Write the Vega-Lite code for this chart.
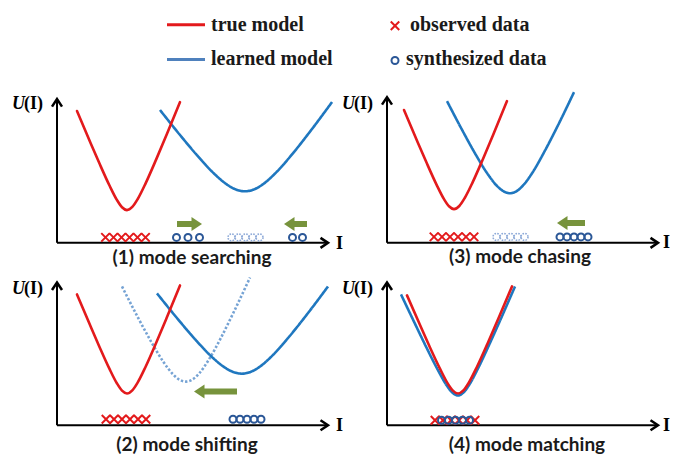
{
  "$schema": "https://vega.github.io/schema/vega-lite/v6.json",
  "width": 673,
  "height": 455,
  "autosize": {"type": "fit", "contains": "padding"},
  "padding": 0,
  "background": "white",
  "config": {"view": {"stroke": null}},
  "resolve": {"scale": {"shape": "independent"}},
  "datasets": {
    "curves": [
      {"curve":"p1-true","series":"true","x":77,"y":112},{"curve":"p1-true","series":"true","x":89.5,"y":141.7},{"curve":"p1-true","series":"true","x":99.5,"y":165},{"curve":"p1-true","series":"true","x":109.5,"y":187.2},{"curve":"p1-true","series":"true","x":117,"y":201.9},{"curve":"p1-true","series":"true","x":122,"y":209.1},{"curve":"p1-true","series":"true","x":127,"y":212},{"curve":"p1-true","series":"true","x":132.3,"y":208.8},{"curve":"p1-true","series":"true","x":137.6,"y":201},{"curve":"p1-true","series":"true","x":145.6,"y":185},{"curve":"p1-true","series":"true","x":156.2,"y":160.8},{"curve":"p1-true","series":"true","x":166.8,"y":135.4},{"curve":"p1-true","series":"true","x":180,"y":103},
      {"curve":"p1-learned","series":"learned","x":160,"y":111},{"curve":"p1-learned","series":"learned","x":181.3,"y":137.8},{"curve":"p1-learned","series":"learned","x":198.3,"y":158.1},{"curve":"p1-learned","series":"learned","x":215.3,"y":176.3},{"curve":"p1-learned","series":"learned","x":228,"y":186.9},{"curve":"p1-learned","series":"learned","x":236.5,"y":191.4},{"curve":"p1-learned","series":"learned","x":245,"y":193},{"curve":"p1-learned","series":"learned","x":253.7,"y":191.2},{"curve":"p1-learned","series":"learned","x":262.4,"y":186.3},{"curve":"p1-learned","series":"learned","x":275.5,"y":174.6},{"curve":"p1-learned","series":"learned","x":292.9,"y":154.7},{"curve":"p1-learned","series":"learned","x":310.3,"y":132.4},{"curve":"p1-learned","series":"learned","x":332,"y":103},
      {"curve":"p3-true","series":"true","x":404,"y":111},{"curve":"p3-true","series":"true","x":416.5,"y":140.7},{"curve":"p3-true","series":"true","x":426.5,"y":164},{"curve":"p3-true","series":"true","x":436.5,"y":186.2},{"curve":"p3-true","series":"true","x":444,"y":200.9},{"curve":"p3-true","series":"true","x":449,"y":208.1},{"curve":"p3-true","series":"true","x":454,"y":211},{"curve":"p3-true","series":"true","x":459.3,"y":207.8},{"curve":"p3-true","series":"true","x":464.6,"y":200},{"curve":"p3-true","series":"true","x":472.6,"y":184},{"curve":"p3-true","series":"true","x":483.2,"y":159.8},{"curve":"p3-true","series":"true","x":493.8,"y":134.4},{"curve":"p3-true","series":"true","x":507,"y":102},
      {"curve":"p3-learned","series":"learned","x":447,"y":102},{"curve":"p3-learned","series":"learned","x":462.8,"y":132.4},{"curve":"p3-learned","series":"learned","x":475.4,"y":155.4},{"curve":"p3-learned","series":"learned","x":488,"y":176},{"curve":"p3-learned","series":"learned","x":497.4,"y":188},{"curve":"p3-learned","series":"learned","x":503.7,"y":193.1},{"curve":"p3-learned","series":"learned","x":510,"y":195},{"curve":"p3-learned","series":"learned","x":516.4,"y":193},{"curve":"p3-learned","series":"learned","x":522.8,"y":187.4},{"curve":"p3-learned","series":"learned","x":532.4,"y":174.2},{"curve":"p3-learned","series":"learned","x":545.2,"y":151.5},{"curve":"p3-learned","series":"learned","x":558,"y":126.4},{"curve":"p3-learned","series":"learned","x":574,"y":93},
      {"curve":"p2-true","series":"true","x":77,"y":297},{"curve":"p2-true","series":"true","x":89.5,"y":326.7},{"curve":"p2-true","series":"true","x":99.5,"y":350},{"curve":"p2-true","series":"true","x":109.5,"y":372.2},{"curve":"p2-true","series":"true","x":117,"y":386.9},{"curve":"p2-true","series":"true","x":122,"y":394.1},{"curve":"p2-true","series":"true","x":127,"y":397},{"curve":"p2-true","series":"true","x":132.3,"y":393.8},{"curve":"p2-true","series":"true","x":137.6,"y":386},{"curve":"p2-true","series":"true","x":145.6,"y":370},{"curve":"p2-true","series":"true","x":156.2,"y":345.8},{"curve":"p2-true","series":"true","x":166.8,"y":320.4},{"curve":"p2-true","series":"true","x":180,"y":288},
      {"curve":"p2-previous","series":"previous","x":122,"y":289},{"curve":"p2-previous","series":"previous","x":138,"y":320.4},{"curve":"p2-previous","series":"previous","x":150.8,"y":344.1},{"curve":"p2-previous","series":"previous","x":163.6,"y":365.4},{"curve":"p2-previous","series":"previous","x":173.2,"y":377.8},{"curve":"p2-previous","series":"previous","x":179.6,"y":383.1},{"curve":"p2-previous","series":"previous","x":186,"y":385},{"curve":"p2-previous","series":"previous","x":192.4,"y":382.9},{"curve":"p2-previous","series":"previous","x":198.8,"y":377.1},{"curve":"p2-previous","series":"previous","x":208.4,"y":363.6},{"curve":"p2-previous","series":"previous","x":221.2,"y":340.3},{"curve":"p2-previous","series":"previous","x":234,"y":314.3},{"curve":"p2-previous","series":"previous","x":250,"y":280},
      {"curve":"p2-learned","series":"learned","x":157,"y":296},{"curve":"p2-learned","series":"learned","x":178.3,"y":322.5},{"curve":"p2-learned","series":"learned","x":195.3,"y":342.5},{"curve":"p2-learned","series":"learned","x":212.3,"y":360.5},{"curve":"p2-learned","series":"learned","x":225,"y":370.9},{"curve":"p2-learned","series":"learned","x":233.5,"y":375.4},{"curve":"p2-learned","series":"learned","x":242,"y":377},{"curve":"p2-learned","series":"learned","x":250.6,"y":375.2},{"curve":"p2-learned","series":"learned","x":259.2,"y":370.4},{"curve":"p2-learned","series":"learned","x":272.1,"y":359},{"curve":"p2-learned","series":"learned","x":289.3,"y":339.5},{"curve":"p2-learned","series":"learned","x":306.5,"y":317.8},{"curve":"p2-learned","series":"learned","x":328,"y":289},
      {"curve":"p4-true","series":"true","x":407,"y":298},{"curve":"p4-true","series":"true","x":419.8,"y":327.4},{"curve":"p4-true","series":"true","x":430,"y":350.5},{"curve":"p4-true","series":"true","x":440.2,"y":372.4},{"curve":"p4-true","series":"true","x":447.8,"y":387},{"curve":"p4-true","series":"true","x":452.9,"y":394.1},{"curve":"p4-true","series":"true","x":458,"y":397},{"curve":"p4-true","series":"true","x":463.4,"y":393.9},{"curve":"p4-true","series":"true","x":468.8,"y":386.1},{"curve":"p4-true","series":"true","x":476.9,"y":370.2},{"curve":"p4-true","series":"true","x":487.7,"y":346.2},{"curve":"p4-true","series":"true","x":498.5,"y":321.1},{"curve":"p4-true","series":"true","x":512,"y":289},
      {"curve":"p4-learned","series":"learned","x":401,"y":297},{"curve":"p4-learned","series":"learned","x":415.3,"y":327.3},{"curve":"p4-learned","series":"learned","x":426.7,"y":351.1},{"curve":"p4-learned","series":"learned","x":438.1,"y":373.7},{"curve":"p4-learned","series":"learned","x":446.6,"y":388.7},{"curve":"p4-learned","series":"learned","x":452.3,"y":396},{"curve":"p4-learned","series":"learned","x":458,"y":399},{"curve":"p4-learned","series":"learned","x":463.7,"y":395.8},{"curve":"p4-learned","series":"learned","x":469.4,"y":387.9},{"curve":"p4-learned","series":"learned","x":478,"y":371.7},{"curve":"p4-learned","series":"learned","x":489.4,"y":347.3},{"curve":"p4-learned","series":"learned","x":500.8,"y":321.7},{"curve":"p4-learned","series":"learned","x":515,"y":289}
    ],
    "axes": [
      {"panel":1,"x":57,"y":245,"x2":57,"y2":100},{"panel":1,"x":57,"y":245,"x2":328,"y2":245},
      {"panel":3,"x":387,"y":245,"x2":387,"y2":98},{"panel":3,"x":387,"y":245,"x2":658,"y2":245},
      {"panel":2,"x":57,"y":429,"x2":57,"y2":285},{"panel":2,"x":57,"y":429,"x2":328,"y2":429},
      {"panel":4,"x":387,"y":429,"x2":387,"y2":285},{"panel":4,"x":387,"y":429,"x2":658,"y2":429}
    ],
    "axisheads": [
      {"panel":1,"x":57,"y":100,"dir":"up"},{"panel":1,"x":328,"y":245,"dir":"right"},
      {"panel":3,"x":387,"y":98,"dir":"up"},{"panel":3,"x":658,"y":245,"dir":"right"},
      {"panel":2,"x":57,"y":285,"dir":"up"},{"panel":2,"x":328,"y":429,"dir":"right"},
      {"panel":4,"x":387,"y":285,"dir":"up"},{"panel":4,"x":658,"y":429,"dir":"right"}
    ],
    "legendlines": [
      {"series":"true","x":167,"x2":205,"y":25},
      {"series":"learned","x":167,"x2":205,"y":60}
    ],
    "samples": [
      {"panel":0,"kind":"observed","x":395,"y":26},{"panel":0,"kind":"synth","x":395,"y":61},
      {"panel":1,"kind":"observed","x":105.5,"y":239.5},{"panel":1,"kind":"observed","x":113.5,"y":239.5},{"panel":1,"kind":"observed","x":121.5,"y":239.5},{"panel":1,"kind":"observed","x":129.5,"y":239.5},{"panel":1,"kind":"observed","x":137.5,"y":239.5},{"panel":1,"kind":"observed","x":145.5,"y":239.5},
      {"panel":1,"kind":"synth","x":176.5,"y":239.5},{"panel":1,"kind":"synth","x":188,"y":239.5},{"panel":1,"kind":"synth","x":199.5,"y":239.5},{"panel":1,"kind":"synth","x":292.5,"y":239.5},{"panel":1,"kind":"synth","x":302.5,"y":239.5},
      {"panel":1,"kind":"synth_prev","x":231.5,"y":239.5},{"panel":1,"kind":"synth_prev","x":238.5,"y":239.5},{"panel":1,"kind":"synth_prev","x":245.5,"y":239.5},{"panel":1,"kind":"synth_prev","x":252.5,"y":239.5},{"panel":1,"kind":"synth_prev","x":259.5,"y":239.5},
      {"panel":3,"kind":"observed","x":434,"y":239},{"panel":3,"kind":"observed","x":442,"y":239},{"panel":3,"kind":"observed","x":450,"y":239},{"panel":3,"kind":"observed","x":458,"y":239},{"panel":3,"kind":"observed","x":466,"y":239},{"panel":3,"kind":"observed","x":474,"y":239},
      {"panel":3,"kind":"synth_prev","x":496.5,"y":239},{"panel":3,"kind":"synth_prev","x":503.5,"y":239},{"panel":3,"kind":"synth_prev","x":510.5,"y":239},{"panel":3,"kind":"synth_prev","x":517.5,"y":239},{"panel":3,"kind":"synth_prev","x":524.5,"y":239},
      {"panel":3,"kind":"synth","x":560,"y":239},{"panel":3,"kind":"synth","x":567,"y":239},{"panel":3,"kind":"synth","x":574,"y":239},{"panel":3,"kind":"synth","x":581,"y":239},{"panel":3,"kind":"synth","x":588,"y":239},
      {"panel":2,"kind":"observed","x":106,"y":423},{"panel":2,"kind":"observed","x":114,"y":423},{"panel":2,"kind":"observed","x":122,"y":423},{"panel":2,"kind":"observed","x":130,"y":423},{"panel":2,"kind":"observed","x":138,"y":423},{"panel":2,"kind":"observed","x":146,"y":423},
      {"panel":2,"kind":"synth","x":233,"y":423},{"panel":2,"kind":"synth","x":240,"y":423},{"panel":2,"kind":"synth","x":247,"y":423},{"panel":2,"kind":"synth","x":254,"y":423},{"panel":2,"kind":"synth","x":261,"y":423},
      {"panel":4,"kind":"observed","x":435,"y":424},{"panel":4,"kind":"observed","x":443,"y":424},{"panel":4,"kind":"observed","x":451,"y":424},{"panel":4,"kind":"observed","x":459,"y":424},{"panel":4,"kind":"observed","x":467,"y":424},{"panel":4,"kind":"observed","x":475,"y":424},
      {"panel":4,"kind":"synth","x":441.5,"y":424},{"panel":4,"kind":"synth","x":448.5,"y":424},{"panel":4,"kind":"synth","x":455.5,"y":424},{"panel":4,"kind":"synth","x":462.5,"y":424},{"panel":4,"kind":"synth","x":469.5,"y":424}
    ],
    "moves": [
      {"panel":1,"x":177,"x2":194,"xt":202,"y":226,"dir":"right"},
      {"panel":1,"x":307,"x2":292,"xt":284,"y":226,"dir":"left"},
      {"panel":3,"x":585,"x2":565,"xt":557,"y":225,"dir":"left"},
      {"panel":2,"x":237,"x2":201,"xt":194,"y":395,"dir":"left"}
    ],
    "texts": [
      {"role":"legend","label":"true model","x":211,"y":25},
      {"role":"legend","label":"learned model","x":211,"y":60},
      {"role":"legend","label":"observed data","x":410,"y":25},
      {"role":"legend","label":"synthesized data","x":406,"y":60},
      {"role":"ysym","label":"U","x":25,"y":105},{"role":"ysym","label":"U","x":355,"y":105},
      {"role":"ysym","label":"U","x":25,"y":292},{"role":"ysym","label":"U","x":355,"y":292},
      {"role":"yarg","label":"(I)","x":24,"y":105},{"role":"yarg","label":"(I)","x":354,"y":105},
      {"role":"yarg","label":"(I)","x":24,"y":292},{"role":"yarg","label":"(I)","x":354,"y":292},
      {"role":"xlab","label":"I","x":339.5,"y":246},{"role":"xlab","label":"I","x":666.5,"y":245},
      {"role":"xlab","label":"I","x":339.5,"y":430},{"role":"xlab","label":"I","x":666.5,"y":430},
      {"role":"caption","label":"(1) mode searching","x":192,"y":260},
      {"role":"caption","label":"(3) mode chasing","x":520,"y":259},
      {"role":"caption","label":"(2) mode shifting","x":187,"y":449},
      {"role":"caption","label":"(4) mode matching","x":527,"y":449}
    ]
  },
  "layer": [
    {
      "data": {"name": "axes"},
      "mark": {"type": "rule", "color": "black", "strokeWidth": 2},
      "encoding": {
        "x": {"field": "x", "type": "quantitative", "scale": {"domain": [0, 673], "nice": false, "zero": false}, "axis": null},
        "y": {"field": "y", "type": "quantitative", "scale": {"domain": [0, 455], "nice": false, "zero": false, "reverse": true}, "axis": null},
        "x2": {"field": "x2"},
        "y2": {"field": "y2"}
      }
    },
    {
      "data": {"name": "axisheads"},
      "mark": {"type": "point", "filled": false, "stroke": "black", "strokeWidth": 2.5, "size": 100, "opacity": 1, "strokeJoin": "miter"},
      "encoding": {
        "x": {"field": "x", "type": "quantitative", "axis": null},
        "y": {"field": "y", "type": "quantitative", "axis": null},
        "shape": {"field": "dir", "type": "nominal", "scale": {"domain": ["up", "right"], "range": ["M-1,1.5L0,0L1,1.5", "M-1.5,-1L0,0L-1.5,1"]}, "legend": null}
      }
    },
    {
      "data": {"name": "curves"},
      "transform": [{"filter": "datum.series !== 'true'"}],
      "mark": {"type": "line", "interpolate": "monotone", "strokeCap": "butt"},
      "encoding": {
        "x": {"field": "x", "type": "quantitative", "axis": null},
        "y": {"field": "y", "type": "quantitative", "axis": null},
        "detail": {"field": "curve"},
        "color": {"field": "series", "type": "nominal", "scale": {"domain": ["true", "learned", "previous"], "range": ["#e31a1c", "#1f77bf", "#76a3d4"]}, "legend": null},
        "strokeDash": {"field": "series", "type": "nominal", "scale": {"domain": ["true", "learned", "previous"], "range": [[1, 0], [1, 0], [2.4, 1.9]]}, "legend": null},
        "strokeWidth": {"field": "series", "type": "nominal", "scale": {"domain": ["true", "learned", "previous"], "range": [2.6, 2.6, 2.8]}, "legend": null}
      }
    },
    {
      "data": {"name": "curves"},
      "transform": [{"filter": "datum.series === 'true'"}],
      "mark": {"type": "line", "strokeWidth": 2.6, "interpolate": "monotone", "strokeCap": "round"},
      "encoding": {
        "x": {"field": "x", "type": "quantitative", "axis": null},
        "y": {"field": "y", "type": "quantitative", "axis": null},
        "detail": {"field": "curve"},
        "color": {"field": "series", "type": "nominal", "legend": null}
      }
    },
    {
      "data": {"name": "legendlines"},
      "mark": {"type": "rule", "strokeWidth": 3},
      "encoding": {
        "x": {"field": "x", "type": "quantitative", "axis": null},
        "x2": {"field": "x2"},
        "y": {"field": "y", "type": "quantitative", "axis": null},
        "stroke": {"field": "series", "type": "nominal", "scale": {"domain": ["true", "learned"], "range": ["#e31a1c", "#4f81bd"]}, "legend": null}
      }
    },
    {
      "data": {"name": "samples"},
      "transform": [{"filter": "datum.kind === 'observed'"}],
      "mark": {"type": "point", "shape": "M-1,-1L1,1M-1,1L1,-1", "filled": false, "stroke": "#e31a1c", "strokeWidth": 2, "size": 72, "opacity": 1},
      "encoding": {
        "x": {"field": "x", "type": "quantitative", "axis": null},
        "y": {"field": "y", "type": "quantitative", "axis": null}
      }
    },
    {
      "data": {"name": "samples"},
      "transform": [{"filter": "datum.kind === 'synth_prev'"}],
      "mark": {"type": "point", "shape": "circle", "filled": false, "stroke": "#8eaad8", "strokeWidth": 1.6, "strokeDash": [1.6, 1.2], "size": 49, "opacity": 1},
      "encoding": {
        "x": {"field": "x", "type": "quantitative", "axis": null},
        "y": {"field": "y", "type": "quantitative", "axis": null}
      }
    },
    {
      "data": {"name": "samples"},
      "transform": [{"filter": "datum.kind === 'synth'"}],
      "mark": {"type": "point", "shape": "circle", "filled": false, "stroke": "#2b5797", "strokeWidth": 2, "size": 49, "opacity": 1},
      "encoding": {
        "x": {"field": "x", "type": "quantitative", "axis": null},
        "y": {"field": "y", "type": "quantitative", "axis": null}
      }
    },
    {
      "data": {"name": "moves"},
      "mark": {"type": "rule", "color": "#77933c", "strokeWidth": 6},
      "encoding": {
        "x": {"field": "x", "type": "quantitative", "axis": null},
        "x2": {"field": "x2"},
        "y": {"field": "y", "type": "quantitative", "axis": null}
      }
    },
    {
      "data": {"name": "moves"},
      "mark": {"type": "point", "filled": true, "color": "#77933c", "size": 196, "opacity": 1},
      "encoding": {
        "x": {"field": "xt", "type": "quantitative", "axis": null},
        "y": {"field": "y", "type": "quantitative", "axis": null},
        "shape": {"field": "dir", "type": "nominal", "scale": {"domain": ["right", "left"], "range": ["M-1.5,-1L0,0L-1.5,1Z", "M1.5,-1L0,0L1.5,1Z"]}, "legend": null}
      }
    },
    {
      "data": {"name": "texts"},
      "transform": [{"filter": "datum.role === 'legend'"}],
      "mark": {"type": "text", "font": "Liberation Serif", "fontWeight": "bold", "fontSize": 20, "align": "left", "baseline": "middle", "color": "#1a1a1a"},
      "encoding": {
        "x": {"field": "x", "type": "quantitative", "axis": null},
        "y": {"field": "y", "type": "quantitative", "axis": null},
        "text": {"field": "label"}
      }
    },
    {
      "data": {"name": "texts"},
      "transform": [{"filter": "datum.role === 'ysym'"}],
      "mark": {"type": "text", "font": "Liberation Serif", "fontWeight": "bold", "fontStyle": "italic", "fontSize": 18, "align": "right", "baseline": "middle", "color": "black"},
      "encoding": {
        "x": {"field": "x", "type": "quantitative", "axis": null},
        "y": {"field": "y", "type": "quantitative", "axis": null},
        "text": {"field": "label"}
      }
    },
    {
      "data": {"name": "texts"},
      "transform": [{"filter": "datum.role === 'yarg'"}],
      "mark": {"type": "text", "font": "Liberation Serif", "fontWeight": "bold", "fontSize": 18, "align": "left", "baseline": "middle", "color": "black"},
      "encoding": {
        "x": {"field": "x", "type": "quantitative", "axis": null},
        "y": {"field": "y", "type": "quantitative", "axis": null},
        "text": {"field": "label"}
      }
    },
    {
      "data": {"name": "texts"},
      "transform": [{"filter": "datum.role === 'xlab'"}],
      "mark": {"type": "text", "font": "Liberation Serif", "fontWeight": "bold", "fontSize": 18, "align": "center", "baseline": "middle", "color": "black"},
      "encoding": {
        "x": {"field": "x", "type": "quantitative", "axis": null},
        "y": {"field": "y", "type": "quantitative", "axis": null},
        "text": {"field": "label"}
      }
    },
    {
      "data": {"name": "texts"},
      "transform": [{"filter": "datum.role === 'caption'"}],
      "mark": {"type": "text", "font": "Lato", "fontWeight": "bold", "fontSize": 19, "align": "center", "baseline": "middle", "color": "#1a1a1a"},
      "encoding": {
        "x": {"field": "x", "type": "quantitative", "axis": null},
        "y": {"field": "y", "type": "quantitative", "axis": null},
        "text": {"field": "label"}
      }
    }
  ]
}
